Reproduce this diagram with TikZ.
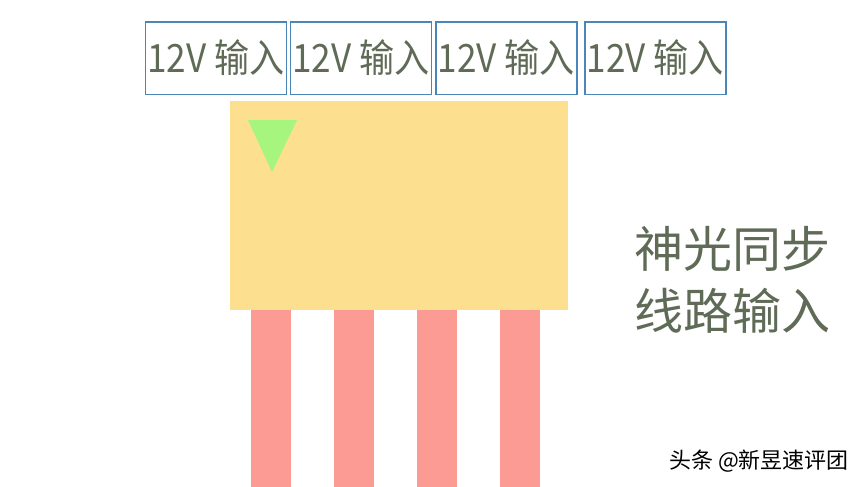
\documentclass[tikz,border=0pt]{standalone}
\usepackage{fontspec}
\newfontfamily\cjk{Noto Sans CJK SC}
\definecolor{boxblue}{HTML}{4A86B8}
\definecolor{txtgreen}{HTML}{5F6B56}
\definecolor{padyellow}{HTML}{FDE08F}
\definecolor{trigreen}{HTML}{A5F57F}
\definecolor{pinred}{HTML}{FC9A94}
\begin{document}
\begin{tikzpicture}[x=1pt,y=-1pt,
  inbox/.style={draw=boxblue,line width=1.8pt,minimum width=141pt,minimum height=72pt,inner sep=0pt,anchor=north west},
  intext/.style={text=txtgreen,font=\cjk\fontsize{39}{40}\selectfont,xscale=0.9,inner sep=0pt},
  pin/.style={fill=pinred,draw=none,minimum width=40pt,minimum height=177pt,inner sep=0pt,anchor=north west}]
\useasboundingbox (0,0) rectangle (865,487);
\fill[white] (0,0) rectangle (865,487);
\node[inbox] (b1) at (144.5,21.5) {};
\node[inbox] (b2) at (289.5,21.5) {};
\node[inbox] (b3) at (435,21.5) {};
\node[inbox] (b4) at (584,21.5) {};
\foreach \b in {b1,b2,b3,b4}{
  \node[intext] (t\b) at ([yshift=1pt]\b.center) {12V 输入};
}
\node[pin] (p1) at (251,310) {};
\node[pin] (p2) at (334,310) {};
\node[pin] (p3) at (417,310) {};
\node[pin] (p4) at (500,310) {};
\node[fill=padyellow,minimum width=338pt,minimum height=209pt,inner sep=0pt,anchor=north west] (pad) at (230,101) {};
\fill[trigreen] (248,120) -- (297,120) -- (272,172) -- cycle;
\node[text=txtgreen,font=\cjk\fontsize{49}{62}\selectfont,align=left,inner sep=0pt,anchor=north west] (lbl) at (634,226) {神光同步\\线路输入};
\node[text=black,font=\cjk\fontsize{22}{24}\selectfont,inner sep=0pt,anchor=north west] (wm) at (669,450) {头条 @新昱速评团};
\end{tikzpicture}
\end{document}
